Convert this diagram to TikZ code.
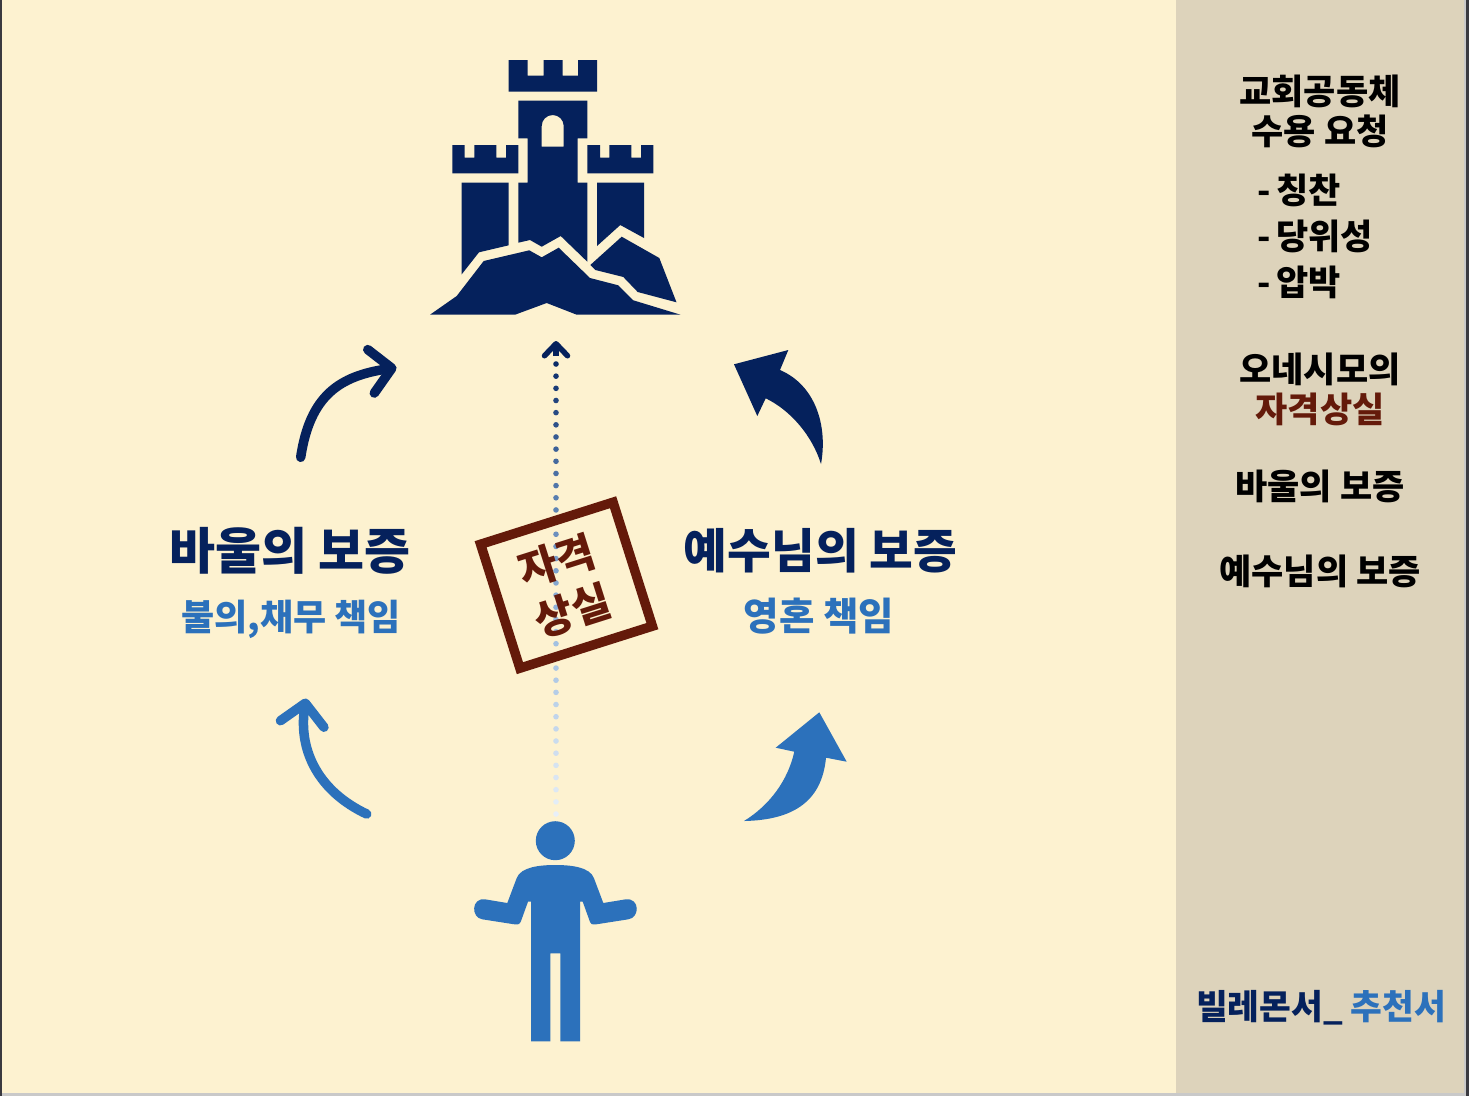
\documentclass[tikz,border=0pt]{standalone}
\usepackage{fontspec}
\setmainfont{Noto Sans CJK KR}
\usetikzlibrary{arrows.meta,calc}
\definecolor{paper}{HTML}{FDF2D0}
\definecolor{sidebar}{HTML}{DDD3BB}
\definecolor{navy}{HTML}{05215C}
\definecolor{sky}{HTML}{2C71BB}
\definecolor{rust}{HTML}{641A0A}
\definecolor{edge}{HTML}{3A3A40}
\definecolor{rim}{HTML}{C9C9C9}
\tikzset{sidetxt/.style={font=\fontsize{35}{40}\selectfont\bfseries, align=center, text=black, inner sep=0pt},
  bigtxt/.style={font=\fontsize{50}{54}\selectfont\bfseries, text=navy, inner sep=0pt},
  subtxt/.style={font=\fontsize{38.5}{44}\selectfont\bfseries, text=sky, inner sep=0pt},
  curvepin/.style={line width=9.5pt, line cap=round, -{Straight Barb[length=21pt,width=44pt,round]}}}

\begin{document}
\begin{tikzpicture}[x=1pt,y=-1pt]
  \useasboundingbox (0,0) rectangle (1469,1096);
  \fill[paper] (0,0) rectangle (1469,1096);
  \fill[sidebar] (1176,0) rectangle (1469,1096);
  \fill[rim] (0,1093) rectangle (1469,1096);
  \fill[rim] (1464,0) rectangle (1466,1096);
  \fill[edge] (0,0) rectangle (2,1096);
  \fill[edge] (1466,0) rectangle (1469,1096);
  % castle
  \fill[navy] (508.5,60) -| (527.5,75.5) -| (543.5,60) -| (562.5,75.5) -| (578,60) -| (597,91.5) -| cycle;
  \fill[navy,even odd rule] (518.3,100.7) -| (587.3,138.3) -| (577.7,182.7) -| (587.3,261.7) -- (560.7,236) -- (541.7,246.7) -- (530,240) -- (518.3,242.7) |- (527.7,182.7) |- (518.3,138.3) -- cycle
    (541.7,146.7) -- (541.7,126) arc[start angle=180,end angle=360,radius=11] -- (563.7,146.7) -- cycle;
  \fill[navy] (452.3,145) -| (464.7,157.7) -| (474.3,145) -| (496.3,157.7) -| (506,145) -| (518.3,173.3) -| cycle;
  \fill[navy] (587.3,145) -| (600,157.7) -| (609.3,145) -| (631.3,157.7) -| (641,145) -| (653.3,173.3) -| cycle;
  \fill[navy] (461.7,182.7) -- (508.7,182.7) -- (508.7,245.3) -- (479,252.3) -- (461.7,274.3) -- cycle;
  \fill[navy] (597,182.7) -- (644,182.7) -- (644,238) -- (620.3,225) -- (597,246) -- cycle;
  \fill[navy] (621.7,236.7) -- (659.3,258) -- (676.5,302.3) -- (637.7,292) -- (623.3,277) -- (595.3,270) -- (590.3,265) -- cycle;
  \fill[navy] (430,314.7) -- (456.7,296) -- (483.7,261) -- (529.3,250.3) -- (541.7,257.3) -- (558.7,247.7) -- (590,278) -- (618.3,285.3) -- (633.3,300.3) -- (680.5,314.7) -- (576.7,314.7) -- (546.7,303) -- (515,314.7) -- cycle;
  % person
  \fill[sky] (555.3,840.7) circle[radius=19.5];
  \fill[sky] (531,1041.3) -- (550.3,1041.3) -- (550.3,953.3) -- (560.3,953.3) -- (560.3,1041.3) -- (580,1041.3) -- (580,901.7) -- (582.7,901.7) -- (588.7,918.3)
    .. controls (591,925) .. (598.3,924) -- (628.3,919.3) .. controls (640,917.7) and (640,897.7) .. (625.7,899.3) -- (603.3,903) -- (594,878.3)
    .. controls (590,866.7) and (570,865) .. (555.3,865) .. controls (540.6,865) and (520.6,866.7) .. (516.6,878.3) -- (507.3,903) -- (485,899.3)
    .. controls (471,897.7) and (471,917.7) .. (482.3,919.3) -- (512.3,924) .. controls (519.6,925) .. (522,918.3) -- (528,901.7) -- (531,901.7) -- cycle;
  % dotted line up from the person
  \coordinate (dotlow) at (556,814);
  \coordinate (dottop) at (556,364);
  \foreach \i in {0,...,37}{
    \pgfmathtruncatemacro{\navypart}{max(0,88-\i*4)}
    \pgfmathtruncatemacro{\inkpart}{100-\i*2.4}
    \fill[navy!\navypart!sky!\inkpart!white] ($(dottop)!\i/37!(dotlow)$) circle[radius=2.8];
  }
  \coordinate (headlow) at (556,356);
  \coordinate (headtip) at (556,341);
  \draw[navy,line width=5.5pt,-{Straight Barb[length=12pt,width=23pt,round]}] (headlow) -- (headtip);
  % four arrows
  \coordinate (pauluptail) at (300.7,457.3);
  \coordinate (pauluptip) at (396.5,367.5);
  \draw[curvepin,navy] (pauluptail) .. controls (310,395) and (340,376) .. (pauluptip);
  \coordinate (paullowtail) at (366.7,814);
  \coordinate (paullowtip) at (306,698.5);
  \draw[curvepin,sky] (paullowtail) .. controls (320,792) and (298,752) .. (paullowtip);
  \fill[navy] (821,464) .. controls (828,425) and (815,385) .. (780,370) -- (788.3,350) -- (734,364.3) -- (757.3,416) -- (765.7,398.3) .. controls (790,410) and (812,435) .. (821,464) -- cycle;
  \fill[sky] (744,821) .. controls (795,820) and (822,800) .. (826,757.7) -- (846.7,761.7) -- (819.3,712.3) -- (775.7,747.7) -- (794.3,751.7) .. controls (788,780) and (770,805) .. (744,821) -- cycle;
  % labels
  \node[bigtxt] (paul) at (290,551) {바울의 보증};
  \node[subtxt, font=\fontsize{36}{44}\selectfont\bfseries] (paulsub) at (291,619.5) {불의,채무 책임};
  \node[bigtxt, font=\fontsize{47.5}{54}\selectfont\bfseries] (jesus) at (820.5,550.5) {예수님의 보증};
  \node[subtxt] (jesussub) at (819,616) {영혼 책임};
  % stamp
  \node[draw=rust, line width=9.5pt, rotate=17.6, minimum width=139pt, minimum height=130pt, text width=100pt, align=center, text=rust, font=\fontsize{42}{52}\selectfont\bfseries, inner sep=0pt] (stamp) at (566.5,585.2) {\hspace*{-4pt}자격\\\hspace*{-4pt}상실};
  % side column
  \node[sidetxt] (demand) at (1320,111.5) {교회공동체\\수용 요청};
  \node[sidetxt, anchor=west] (praise) at (1257.5,190) {-\kern5pt칭찬};
  \node[sidetxt, anchor=west] (merit) at (1257.5,236) {-\kern5pt당위성};
  \node[sidetxt, anchor=west] (press) at (1257.5,282) {-\kern5pt압박};
  \node[sidetxt] (onesi) at (1320,369.5) {오네시모의};
  \node[sidetxt, text=rust] (lost) at (1320,409) {자격상실};
  \node[sidetxt] (paulside) at (1320,486.5) {바울의 보증};
  \node[sidetxt] (jesusside) at (1320,571.5) {예수님의 보증};
  \node[sidetxt, text=navy, font=\fontsize{34.5}{40}\selectfont\bfseries] (title) at (1321,1008) {빌레몬서\_ {\color{sky}추천서}};
\end{tikzpicture}
\end{document}
